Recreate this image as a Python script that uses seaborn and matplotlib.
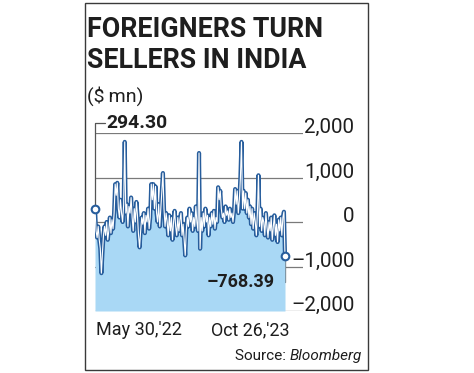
import numpy as np
import pandas as pd
import matplotlib
matplotlib.use("Agg")
import matplotlib.pyplot as plt
import seaborn as sns
from matplotlib.patches import Rectangle

# daily net flows ($ mn), May 30 '22 -> Oct 26 '23
flows = [294.30,
         -200, -350, -100,
         -400, -600, -1150, -700, -300,
         -100, -300, 0, -400, -200, 100, -250, 50, -150, 200,
         850, 600, 880,
         300, 100, 500, 200, 0, 400,
         1800,
         200, 400, -100, 350, 200, 550, 100, -200, 300, 0, 450, 150,
         -300, -570, -200,
         100, -50, 200, -250, 150, 0, 300, -150, 100,
         850, 500, 850, 300, 800, 200,
         0, 400, -100, 300,
         700, 1100,
         300, -100, 200, 0, -300, 150, -200, 100, -400, 0, 250, -100, -300, 100, -200, 50,
         200, -300, -50, -400,
         -750,
         -200, 100, -100, 300, 0, 200, -200, 100, -100, 350, 0,
         -200,
         1550,
         -600,
         100, -200, 200, -100, 300, 0, 150, -300, 100, -100, 200, -50, 250, -150, 100, 0,
         780, 500, 700,
         300, 100, 200, 0, 350, 150, 250, 50, 300, 100, 200, 0, 250,
         740, 400, 700,
         200, 500, 1000, 1800, 300,
         700, 300, 650, 200, 500, 100, 350, -50, 300, -150, 200, 0,
         -300, 200, 1050,
         -100, 300, -200, 100, 0, -300, 200, -100, -350, 0, -200, 100, -400, -100, 150, -300,
         -50, -450, 50, -200, 100,
         -300, 100, 230,
         -768.39]
yticks = [-2000, -1000, 0, 1000, 2000]
ytick_labels = ["\u20132,000", "\u20131,000", "0", "1,000", "2,000"]
start_label, end_label = "May 30,'22", "Oct 26,'23"
first_val, last_val = "294.30", "\u2013768.39"

df = pd.DataFrame({"day": np.arange(len(flows)), "flow": flows})
n = len(flows) - 1

sns.set_style("white")
plt.rcParams["font.family"] = ["Roboto", "DejaVu Sans"]

line_c = "#275d9c"
fill_c = "#a9d8f5"
text_c = "#1e1e1e"
grid_c = "#7a7a7a"

W, H = 474, 373
fig = plt.figure(figsize=(W / 100, H / 100), dpi=100)
renderer = fig.canvas.get_renderer()


def fit(t, width_px):
    # shrink/grow a text so that it spans the width seen in the reference
    w = t.get_window_extent(renderer).width
    t.set_fontsize(t.get_fontsize() * width_px / w)
    return t


ax = fig.add_axes([95 / W, 1 - 311 / H, 208 / W, 178 / H])

ax.fill_between(df["day"], df["flow"], -2000, color=fill_c, lw=0, zorder=2)
sns.lineplot(data=df, x="day", y="flow", ax=ax, color=line_c, lw=3.0, zorder=3)
sns.lineplot(data=df, x="day", y="flow", ax=ax, color="white", lw=0.8, zorder=4)
ax.plot([0, n], [flows[0], flows[-1]], "o", ms=5.5, mfc="white", mec=line_c, mew=1.5,
        zorder=5, clip_on=False)

ax.set_xlim(0, n * 208 / 190)
ax.set_ylim(-2000, 2000)
for y in yticks:
    ax.axhline(y, color=grid_c, lw=0.9, zorder=1)

# size tick labels so "2,000" is as wide as in the reference
probe = fig.text(0, 0, "2,000", fontsize=15)
tick_size = 15 * 50 / probe.get_window_extent(renderer).width
probe.remove()

ax.set_yticks(yticks)
ax.set_yticklabels(ytick_labels)
ax.yaxis.tick_right()
ax.tick_params(axis="y", length=0, pad=37, labelsize=tick_size, labelcolor=text_c)
for lab in ax.get_yticklabels():
    lab.set_ha("right")
    lab.set_va("baseline")
ax.set_xticks([])
ax.set_xlabel("")
ax.set_ylabel("")
for s in ax.spines.values():
    s.set_visible(False)

# callouts for first / last values
ax.plot([0, 0, 9], [flows[0], 2225, 2225], color="#555555", lw=0.9, clip_on=False, zorder=1)
t = ax.text(11, 2225, first_val, ha="left", va="center", fontsize=13, fontweight="bold",
            color=text_c)
fit(t, 61)
ax.plot([n, n, n - 7.5], [flows[-1], -1348, -1348], color="#555555", lw=0.9,
        clip_on=False, zorder=1)
t = ax.text(n - 10, -1348, last_val, ha="right", va="center", fontsize=13,
            fontweight="bold", color=text_c)
fit(t, 68)

t1 = fig.text(87 / W, 1 - 37 / H, "FOREIGNERS TURN", fontsize=20, fontweight="bold",
              color=text_c, va="baseline")
fit(t1, 235)
fig.text(87 / W, 1 - 68 / H, "SELLERS IN INDIA", fontsize=t1.get_fontsize(),
         fontweight="bold", color=text_c, va="baseline")
fit(fig.text(87 / W, 1 - 102 / H, "($\u2009mn)", fontsize=15, color=text_c,
             va="baseline"), 56)
fit(fig.text(96 / W, 1 - 335 / H, start_label, fontsize=14, color=text_c,
             va="baseline"), 86)
fit(fig.text(211 / W, 1 - 335 / H, end_label, fontsize=14, color=text_c,
             va="baseline"), 79)
src = fig.text(235 / W, 1 - 360 / H, "Source: ", fontsize=12, color=text_c,
               va="baseline")
it = fig.text(0, 1 - 360 / H, "Bloomberg", fontsize=12, style="italic",
              color=text_c, va="baseline")
total = src.get_window_extent(renderer).width + it.get_window_extent(renderer).width
scale = 127 / total
src.set_fontsize(12 * scale)
it.set_fontsize(12 * scale)
it.set_x(src.get_window_extent(renderer).x1 / W)

fig.patches.append(Rectangle((85 / W, 3 / H), 283 / W, 367 / H,
                             transform=fig.transFigure, fill=False, ec="#3a3a3a", lw=1))

fig.savefig("out.png", dpi=100, facecolor="white")
